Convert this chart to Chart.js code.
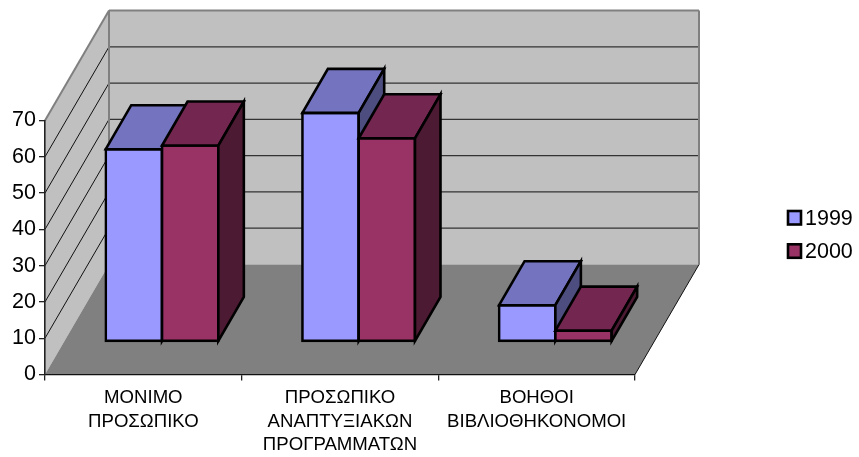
<!DOCTYPE html>
<html>
<head>
<meta charset="utf-8">
<title>Προσωπικό</title>
<script src="https://cdn.jsdelivr.net/npm/chart.js@4"></script>
<style>
  body { margin: 0; background: #fff; }
  canvas { display: block; }
</style>
</head>
<body>
<canvas id="chart" width="859" height="457"></canvas>
<script>
const categories = [
    ["ΜΟΝΙΜΟ", "ΠΡΟΣΩΠΙΚΟ"],
    ["ΠΡΟΣΩΠΙΚΟ", "ΑΝΑΠΤΥΞΙΑΚΩΝ", "ΠΡΟΓΡΑΜΜΑΤΩΝ"],
    ["ΒΟΗΘΟΙ", "ΒΙΒΛΙΟΘΗΚΟΝΟΜΟΙ"]
];
const seriesNames = ["1999", "2000"];
const values1999 = [53, 63, 10];
const values2000 = [54, 56, 3];
const axisMax = 70;
const axisStep = 10;

const FONT = "'Liberation Sans', Arial, sans-serif";
const BAR_LINE = 2.6;

// wall depth of the fake 3D box, and how far the bars sit inside it
const WALL_DX = 64, WALL_DY = -110;
const ROW_DX = 18.7, ROW_DY = -33;
const BAR_DX = 25.5, BAR_DY = -44;

const faceColors = [
    { top: "#7373BF", side: "#4D4D80" },
    { top: "#732650", side: "#4D1A33" }
];

function poly(ctx, pts, fill, stroke, lineWidth) {
    ctx.beginPath();
    pts.forEach((p, i) => i ? ctx.lineTo(p[0], p[1]) : ctx.moveTo(p[0], p[1]));
    ctx.closePath();
    if (fill) {
        ctx.fillStyle = fill;
        ctx.fill();
    }
    if (stroke) {
        ctx.strokeStyle = stroke;
        ctx.lineWidth = lineWidth;
        ctx.stroke();
    }
}

function line(ctx, x1, y1, x2, y2, color, width) {
    ctx.beginPath();
    ctx.moveTo(x1, y1);
    ctx.lineTo(x2, y2);
    ctx.strokeStyle = color;
    ctx.lineWidth = width;
    ctx.stroke();
}

const box3d = {
    id: "box3d",
    beforeDraw(chart) {
        const ctx = chart.ctx;
        const { left, right } = chart.chartArea;
        const y = chart.scales.y;
        const y0 = y.getPixelForValue(0);
        const yTop = y.getPixelForValue(axisMax);
        const bx = left + WALL_DX, by0 = y0 + WALL_DY, byTop = yTop + WALL_DY;
        const brx = right + WALL_DX;

        ctx.save();
        ctx.fillStyle = "#fff";
        ctx.fillRect(0, 0, chart.width, chart.height);

        poly(ctx, [[left, y0], [left, yTop], [bx, byTop], [bx, by0]], "#C0C0C0");
        poly(ctx, [[bx, by0], [bx, byTop], [brx, byTop], [brx, by0]], "#C0C0C0");
        poly(ctx, [[left, y0], [right, y0], [brx, by0], [bx, by0]], "#808080");

        for (let v = axisStep; v < axisMax; v += axisStep) {
            const py = y.getPixelForValue(v);
            line(ctx, left, py, bx, py + WALL_DY, "#111", 1);
            line(ctx, bx, py + WALL_DY, brx, py + WALL_DY, "#333", 1.3);
        }

        line(ctx, left, yTop, bx, byTop, "#808080", 2);
        line(ctx, bx, byTop, brx, byTop, "#808080", 2);
        line(ctx, bx, byTop, bx, by0, "#808080", 2);
        line(ctx, brx, byTop, brx, by0, "#808080", 2);
        line(ctx, right, y0, brx, by0, "#111", 1);
        ctx.restore();
    },
    // the 3D look needs painting left to right, so the first series goes first
    beforeDatasetsDraw(chart) {
        const ctx = chart.ctx;
        ctx.save();
        ctx.translate(ROW_DX, ROW_DY);
        ctx.lineJoin = "miter";
        chart.data.datasets.forEach((ds, i) => {
            const meta = chart.getDatasetMeta(i);
            meta.controller.draw();
            meta.data.forEach(bar => {
                const l = bar.x - bar.width / 2, r = bar.x + bar.width / 2;
                const t = bar.y, b = bar.base;
                poly(ctx, [[l, t], [r, t], [r + BAR_DX, t + BAR_DY], [l + BAR_DX, t + BAR_DY]], faceColors[i].top, "#000", BAR_LINE);
                poly(ctx, [[r, t], [r + BAR_DX, t + BAR_DY], [r + BAR_DX, b + BAR_DY], [r, b]], faceColors[i].side, "#000", BAR_LINE);
            });
        });
        ctx.restore();
        return false;
    },
    afterDraw(chart) {
        const ctx = chart.ctx;
        ctx.save();
        ctx.font = "21.5px " + FONT;
        ctx.textBaseline = "middle";
        ctx.textAlign = "left";
        chart.data.datasets.forEach((ds, i) => {
            const ly = 211 + i * 33.3;
            ctx.fillStyle = ds.backgroundColor;
            ctx.strokeStyle = "#000";
            ctx.lineWidth = BAR_LINE;
            ctx.fillRect(788, ly, 13, 13.5);
            ctx.strokeRect(788, ly, 13, 13.5);
            ctx.fillStyle = "#000";
            ctx.fillText(ds.label, 805, ly + 8);
        });
        ctx.restore();
    }
};

new Chart(document.getElementById("chart"), {
    type: "bar",
    data: {
        labels: categories,
        datasets: [
            { label: seriesNames[0], data: values1999, backgroundColor: "#9999FF" },
            { label: seriesNames[1], data: values2000, backgroundColor: "#993366" }
        ]
    },
    options: {
        responsive: false,
        animation: false,
        layout: { padding: { top: 120.5, right: 224, left: 0, bottom: 0 } },
        datasets: {
            bar: {
                categoryPercentage: 0.5725,
                barPercentage: 1,
                borderColor: "#000",
                borderWidth: BAR_LINE,
                borderSkipped: false,
                inflateAmount: BAR_LINE / 2
            }
        },
        scales: {
            x: {
                afterFit(scale) { scale.height = 82.5; },
                grid: { drawOnChartArea: false, tickLength: 6, color: "#222", lineWidth: 1.3 },
                border: { color: "#111", width: 1.3 },
                ticks: {
                    color: "#000",
                    padding: 6,
                    maxRotation: 0,
                    autoSkip: false,
                    font: { family: FONT, size: 18.6, lineHeight: 1.26 }
                }
            },
            y: {
                min: 0,
                max: axisMax,
                afterFit(scale) { scale.width = 45; },
                grid: { drawOnChartArea: false, tickLength: 6, color: "#222", lineWidth: 1.3 },
                border: { color: "#222", width: 1.6 },
                ticks: { color: "#000", stepSize: axisStep, padding: 3, font: { family: FONT, size: 21.5 } }
            }
        },
        plugins: {
            legend: { display: false },
            tooltip: { enabled: false }
        }
    },
    plugins: [box3d]
});
</script>
</body>
</html>
